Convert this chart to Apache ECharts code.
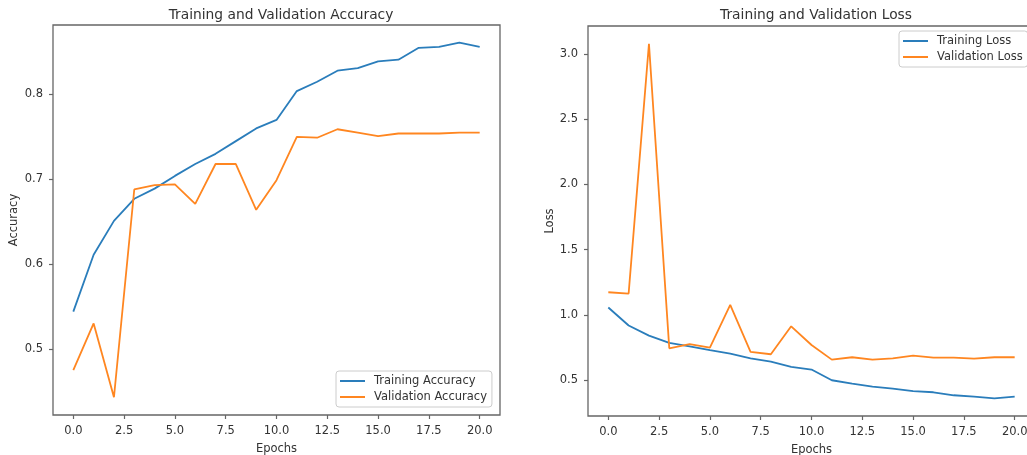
<!DOCTYPE html>
<html>
<head>
<meta charset="utf-8">
<script src="https://cdn.jsdelivr.net/npm/echarts@6/dist/echarts.min.js"></script>
<style>
html,body{margin:0;padding:0;background:#fff;}
#chart{width:1027px;height:455px;}
</style>
</head>
<body>
<div id="chart"></div>
<script>
const epochs = [0,1,2,3,4,5,6,7,8,9,10,11,12,13,14,15,16,17,18,19,20];
const trainAcc = [0.544,0.611,0.651,0.677,0.689,0.704,0.718,0.730,0.745,0.760,0.770,0.804,0.815,0.828,0.831,0.839,0.841,0.855,0.856,0.861,0.856];
const valAcc = [0.475,0.530,0.443,0.688,0.693,0.694,0.671,0.718,0.718,0.664,0.699,0.750,0.749,0.759,0.755,0.751,0.754,0.754,0.754,0.755,0.755];
const trainLoss = [1.057,0.919,0.842,0.786,0.760,0.730,0.704,0.668,0.643,0.602,0.582,0.500,0.474,0.451,0.436,0.416,0.408,0.385,0.375,0.362,0.375];
const valLoss = [1.174,1.164,3.077,0.745,0.776,0.750,1.077,0.717,0.699,0.913,0.770,0.658,0.676,0.658,0.668,0.689,0.674,0.674,0.666,0.676,0.676];
const xTicks = [0,2.5,5,7.5,10,12.5,15,17.5,20];
const accTicks = [0.5,0.6,0.7,0.8];
const lossTicks = [0.5,1.0,1.5,2.0,2.5,3.0];

const BLUE = '#2a7dbb', ORANGE = '#ff8620';
const TXT = '#333', SPINE = '#666';
const FONT = 'DejaVu Sans';

function pairs(ys){ return epochs.map((e,i)=>[e, ys[i]]); }
function range(a, b){
  const all = a.concat(b);
  const lo = Math.min(...all), hi = Math.max(...all);
  const m = (hi - lo) * 0.05;
  return [lo - m, hi + m];
}
const xMin = epochs[0] - (epochs[epochs.length-1]-epochs[0])*0.05;
const xMax = epochs[epochs.length-1] + (epochs[epochs.length-1]-epochs[0])*0.05;
const accR = range(trainAcc, valAcc);
const lossR = range(trainLoss, valLoss);

function xAxis(gi){
  return {
    type:'value', gridIndex:gi, min:xMin, max:xMax, position:'bottom',
    name:'Epochs', nameLocation:'middle', nameGap:28,
    nameTextStyle:{color:TXT, fontFamily:FONT, fontSize:11.5},
    axisLine:{show:false, onZero:false}, splitLine:{show:false},
    axisTick:{show:true, inside:false, length:4, lineStyle:{color:SPINE, width:1.2}, customValues:xTicks},
    axisLabel:{color:TXT, fontFamily:FONT, fontSize:11.5, margin:10, customValues:xTicks,
      formatter:v=>Number(v).toFixed(1)}
  };
}
function yAxis(gi, r, ticks, name, gap){
  return {
    type:'value', gridIndex:gi, min:r[0], max:r[1], position:'left',
    name:name, nameLocation:'middle', nameGap:gap, nameRotate:90,
    nameTextStyle:{color:TXT, fontFamily:FONT, fontSize:11.5},
    axisLine:{show:false, onZero:false}, splitLine:{show:false},
    axisTick:{show:true, inside:false, length:4, lineStyle:{color:SPINE, width:1.2}, customValues:ticks},
    axisLabel:{color:TXT, fontFamily:FONT, fontSize:11.5, margin:10, customValues:ticks,
      formatter:v=>Number(v).toFixed(1)}
  };
}
function legend(names, left, top){
  return {
    data:names, left:left, top:top, orient:'vertical', icon:'rect',
    itemWidth:25, itemHeight:2, itemGap:4,
    padding:[4,5,4,4],
    backgroundColor:'rgba(255,255,255,0.8)', borderColor:'#ccc', borderWidth:1, borderRadius:3,
    textStyle:{color:TXT, fontFamily:FONT, fontSize:11.5, padding:[0,0,0,4]},
    selectedMode:false
  };
}
function line(name, data, color, xi, yi){
  return {
    name:name, type:'line', xAxisIndex:xi, yAxisIndex:yi, data:pairs(data),
    symbol:'none', lineStyle:{color:color, width:1.8}, itemStyle:{color:color},
    emphasis:{disabled:true}
  };
}

const chart = echarts.init(document.getElementById('chart'), null, {renderer:'canvas'});
chart.setOption({
  animation:false,
  backgroundColor:'#fff',
  title:[
    {text:'Training and Validation Accuracy', left:276, top:3, textAlign:'center',
     textStyle:{color:TXT, fontFamily:FONT, fontSize:13.8, fontWeight:'normal'}},
    {text:'Training and Validation Loss', left:811, top:3, textAlign:'center',
     textStyle:{color:TXT, fontFamily:FONT, fontSize:13.8, fontWeight:'normal'}}
  ],
  grid:[
    {left:53, top:25, width:447, height:390, show:true, borderColor:SPINE, borderWidth:1.3, backgroundColor:'transparent', outerBoundsMode:'none', containLabel:false},
    {left:588, top:26, width:447, height:390, show:true, borderColor:SPINE, borderWidth:1.3, backgroundColor:'transparent', outerBoundsMode:'none', containLabel:false}
  ],
  xAxis:[xAxis(0), xAxis(1)],
  yAxis:[yAxis(0, accR, accTicks, 'Accuracy', 33), yAxis(1, lossR, lossTicks, 'Loss', 31)],
  legend:[
    legend(['Training Accuracy','Validation Accuracy'], 336, 371),
    legend(['Training Loss','Validation Loss'], 899, 31)
  ],
  series:[
    line('Training Accuracy', trainAcc, BLUE, 0, 0),
    line('Validation Accuracy', valAcc, ORANGE, 0, 0),
    line('Training Loss', trainLoss, BLUE, 1, 1),
    line('Validation Loss', valLoss, ORANGE, 1, 1)
  ]
});
</script>
</body>
</html>
